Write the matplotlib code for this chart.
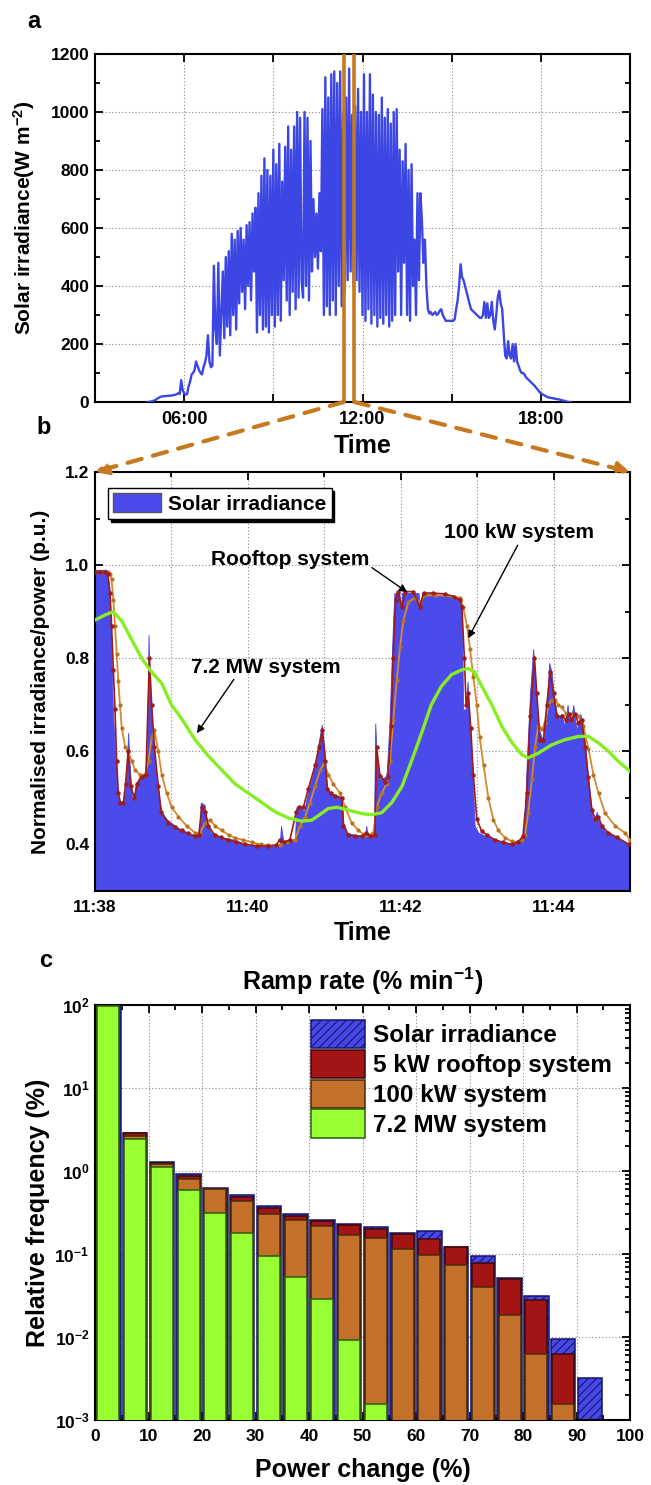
import numpy as np
import matplotlib
matplotlib.use('Agg')
import matplotlib.pyplot as plt
from matplotlib.patches import ConnectionPatch, Patch
from matplotlib.ticker import MultipleLocator, LogLocator, NullFormatter, FixedLocator

plt.rcParams['font.family'] = ['Liberation Sans', 'DejaVu Sans']
plt.rcParams['font.weight'] = 'bold'
plt.rcParams['axes.labelweight'] = 'bold'
plt.rcParams['axes.titleweight'] = 'bold'
plt.rcParams['mathtext.fontset'] = 'custom'
plt.rcParams['mathtext.rm'] = 'Liberation Sans:bold'
plt.rcParams['mathtext.bf'] = 'Liberation Sans:bold'
plt.rcParams['mathtext.it'] = 'Liberation Sans:bold'
plt.rcParams['mathtext.default'] = 'regular'
plt.rcParams['hatch.linewidth'] = 0.8

# ---------------- Panel a: daily irradiance (W m-2), 3-min samples 04:45 .. 19:00
day_start_min = 285
day_step_min = 3
irr_day_0445 = [0, 0, 1, 2, 4]
irr_day_05 = [5, 8, 12, 15, 18, 19, 20, 20, 21, 21, 22, 22, 23, 24, 25, 27, 30, 28, 75, 40]
irr_day_06 = [30, 25, 28, 55, 70, 95, 100, 110, 140, 125, 110, 100, 95, 120, 135, 160, 230, 140, 120, 125]
irr_day_07 = [470, 250, 200, 480, 160, 300, 450, 220, 500, 260, 520, 230, 580, 300, 560, 250, 590, 340, 600, 380]
irr_day_08 = [560, 320, 610, 400, 620, 350, 650, 450, 670, 240, 720, 300, 780, 250, 840, 260, 800, 240, 780, 300]
irr_day_09 = [870, 260, 820, 300, 890, 280, 760, 420, 880, 350, 950, 300, 870, 380, 950, 320, 1000, 360, 980, 420]
irr_day_10 = [360, 1000, 400, 980, 350, 900, 450, 700, 500, 650, 460, 720, 520, 1010, 300, 1120, 330, 1050, 300, 1130]
irr_day_11 = [350, 1140, 300, 1100, 400, 1140, 330, 1000, 380, 1050, 420, 1150, 450, 990, 400, 1020, 420, 1080, 380, 1000]
irr_day_12 = [300, 1130, 280, 1000, 320, 1130, 270, 1060, 300, 1000, 260, 990, 290, 1050, 270, 980, 300, 1010, 260, 960]
irr_day_13 = [280, 1000, 300, 1010, 450, 870, 300, 830, 480, 890, 300, 800, 280, 820, 400, 560, 300, 720, 420, 720]
irr_day_14 = [620, 480, 560, 400, 320, 305, 310, 300, 305, 310, 300, 305, 315, 320, 300, 290, 280, 280, 280, 280]
irr_day_15 = [280, 280, 285, 320, 350, 400, 475, 430, 420, 400, 380, 360, 340, 320, 315, 310, 305, 300, 295, 290]
irr_day_16 = [290, 300, 345, 290, 340, 290, 300, 345, 280, 250, 300, 360, 383, 340, 320, 240, 160, 150, 210, 160]
irr_day_17 = [150, 200, 140, 200, 140, 125, 110, 100, 100, 95, 85, 80, 75, 70, 65, 60, 55, 48, 42, 35]
irr_day_18 = [30, 27, 24, 21, 18, 16, 15, 14, 13, 12, 11, 10, 9, 8, 6, 5, 4, 2, 1, 0]
irr_day_19 = [0]
zoom_window_h = [11.37, 11.73]

# ---------------- Panel b: 11:38 - 11:45 (seconds after 11:38)
irr_t = [0, 9, 11, 12, 13, 14, 16, 18, 19, 22, 24, 26, 27, 29, 30, 32, 35, 39, 41, 42, 43, 45, 47, 49,
         52, 56, 60, 68, 78, 82, 83, 86, 88, 91, 100, 110, 118, 131, 140, 145, 146, 148, 155, 157, 158,
         162, 164, 167, 171, 173, 176, 178, 179, 180, 182, 185, 193, 194, 195, 198, 208, 212, 213, 214,
         219, 220, 221, 223, 228, 229, 231, 232, 234, 235, 239, 240, 241, 254, 255, 257, 270, 285, 288,
         289, 291, 292.5, 294, 296, 298, 301, 314, 327, 335, 337, 339, 341.5, 344, 345, 348, 352, 354.5,
         356.5, 358.5, 360.5, 363.5, 366, 368.5, 371, 373, 375.5, 378, 381, 383.5, 386, 388.5, 391, 394,
         396, 400, 408, 420]
irr_v = [0.99, 0.99, 0.96, 0.90, 0.80, 0.69, 0.58, 0.50, 0.49, 0.49, 0.52, 0.64, 0.58, 0.50, 0.49, 0.53,
         0.545, 0.55, 0.60, 0.85, 0.75, 0.65, 0.58, 0.52, 0.47, 0.455, 0.446, 0.43, 0.418, 0.418, 0.49,
         0.485, 0.45, 0.425, 0.415, 0.41, 0.40, 0.396, 0.396, 0.398, 0.44, 0.405, 0.41, 0.41, 0.48, 0.48,
         0.47, 0.51, 0.55, 0.58, 0.625, 0.657, 0.63, 0.61, 0.52, 0.51, 0.50, 0.49, 0.446, 0.425, 0.418,
         0.415, 0.44, 0.415, 0.425, 0.66, 0.60, 0.54, 0.545, 0.555, 0.65, 0.725, 0.88, 0.94, 0.94, 0.90,
         0.94, 0.94, 0.91, 0.94, 0.935, 0.93, 0.91, 0.69, 0.69, 0.75, 0.67, 0.58, 0.44, 0.425, 0.41, 0.40,
         0.41, 0.44, 0.58, 0.725, 0.82, 0.78, 0.65, 0.62, 0.69, 0.79, 0.77, 0.71, 0.67, 0.68, 0.655, 0.70,
         0.655, 0.70, 0.645, 0.68, 0.655, 0.58, 0.51, 0.45, 0.47, 0.446, 0.43, 0.418, 0.40]

roof_t = [0, 4, 8, 10, 11.8, 13, 14.4, 15.7, 17, 18.3, 20, 22.3, 24, 26, 28, 31, 33, 36.6, 40, 42.7, 44.5,
          46.6, 49.7, 52, 57.6, 63, 68, 73, 78.5, 81.5, 83.8, 86.4, 89, 94, 99, 104.7, 111, 118, 127, 136,
          142, 145, 148, 153, 158, 160, 163.6, 167.5, 172.8, 176, 178.5, 180.6, 182.5, 185, 188.5, 193.7,
          195, 199, 204, 209.4, 213, 216, 219.8, 221, 223.8, 228, 230, 232.4, 234, 236, 238, 240.8, 243.4,
          250, 255, 258, 265, 275, 282, 286.6, 288, 290, 291.3, 293, 295, 297, 299.7, 303.6, 308, 314, 320,
          327, 332, 336, 339, 341.6, 345, 346.8, 349.4, 352, 354.7, 357.3, 360, 362.5, 366.4, 369.6, 372,
          374, 377, 379.5, 382, 384.7, 387, 390, 392.6, 395, 398, 403, 410, 419]
roof_v = [0.985, 0.985, 0.985, 0.98, 0.94, 0.87, 0.775, 0.69, 0.58, 0.51, 0.49, 0.49, 0.53, 0.60, 0.525,
          0.50, 0.53, 0.545, 0.55, 0.80, 0.70, 0.61, 0.525, 0.47, 0.446, 0.437, 0.43, 0.424, 0.418, 0.42,
          0.48, 0.47, 0.44, 0.42, 0.415, 0.41, 0.405, 0.40, 0.397, 0.396, 0.398, 0.41, 0.405, 0.41, 0.47,
          0.48, 0.48, 0.52, 0.57, 0.61, 0.645, 0.58, 0.52, 0.51, 0.505, 0.50, 0.44, 0.42, 0.418, 0.418,
          0.425, 0.418, 0.42, 0.61, 0.546, 0.535, 0.545, 0.655, 0.80, 0.925, 0.943, 0.91, 0.943, 0.943,
          0.91, 0.94, 0.94, 0.938, 0.932, 0.925, 0.91, 0.80, 0.70, 0.725, 0.65, 0.55, 0.455, 0.428, 0.42,
          0.41, 0.405, 0.40, 0.405, 0.418, 0.51, 0.675, 0.80, 0.725, 0.625, 0.625, 0.70, 0.77, 0.725,
          0.675, 0.675, 0.668, 0.68, 0.668, 0.68, 0.66, 0.668, 0.61, 0.545, 0.475, 0.455, 0.46, 0.44,
          0.425, 0.415, 0.40]

kw100_t = [0, 5, 10, 11.8, 13, 14.4, 15.7, 17, 18.3, 19.6, 21, 23.6, 26, 28.8, 31.4, 35.3, 39.3, 42, 44.5,
           46.6, 49.7, 52.4, 56.3, 60.2, 65.4, 72, 78.5, 82.5, 86.4, 90.3, 94.2, 99.5, 105, 110, 116, 123,
           130, 136, 145, 150.5, 157, 161, 165, 168.8, 172.8, 176.7, 180, 183.2, 187, 192.4, 196.3, 201.6,
           206.8, 212, 214.6, 218.5, 221, 225, 229, 231.6, 234.2, 236.9, 239.5, 242, 246, 251, 255, 259,
           267, 275, 281, 286.6, 289, 292, 294.4, 297, 299.7, 302, 305, 308.8, 312.8, 316.7, 322, 327, 331,
           335, 337.6, 340, 343, 345.5, 348, 350.7, 353.3, 356, 358.5, 361, 363.8, 366.4, 370, 374, 379.5,
           383.4, 387.4, 391.3, 395.3, 400.5, 408.3, 416, 420]
kw100_v = [0.985, 0.985, 0.985, 0.98, 0.97, 0.925, 0.87, 0.81, 0.75, 0.70, 0.65, 0.61, 0.60, 0.58, 0.56,
           0.55, 0.55, 0.58, 0.63, 0.645, 0.60, 0.55, 0.51, 0.48, 0.46, 0.44, 0.425, 0.425, 0.446, 0.453,
           0.44, 0.43, 0.42, 0.414, 0.41, 0.405, 0.40, 0.398, 0.398, 0.405, 0.41, 0.44, 0.46, 0.49, 0.525,
           0.56, 0.575, 0.55, 0.53, 0.51, 0.48, 0.446, 0.43, 0.42, 0.42, 0.425, 0.48, 0.51, 0.53, 0.58,
           0.668, 0.753, 0.825, 0.88, 0.92, 0.93, 0.92, 0.935, 0.935, 0.935, 0.932, 0.93, 0.91, 0.87, 0.82,
           0.76, 0.70, 0.63, 0.57, 0.50, 0.453, 0.43, 0.414, 0.407, 0.405, 0.41, 0.42, 0.467, 0.54, 0.61,
           0.655, 0.648, 0.66, 0.70, 0.71, 0.71, 0.70, 0.695, 0.68, 0.68, 0.675, 0.655, 0.605, 0.55, 0.51,
           0.467, 0.44, 0.425, 0.41]

mw_t = [0, 8, 14.4, 21, 28.8, 36.6, 44.5, 52.4, 60, 68, 78.5, 89, 99.5, 110, 120.4, 131, 141.4, 151.8,
        162.3, 170, 177, 183, 190, 197, 204, 210, 217, 225, 233, 241, 248.6, 256.5, 264, 272, 280, 288,
        293, 298, 303.6, 311.5, 319.3, 327, 335, 340, 348, 358.5, 369, 379.5, 387.4, 395.3, 403, 411, 420]
mw_v = [0.882, 0.893, 0.90, 0.88, 0.84, 0.80, 0.77, 0.746, 0.70, 0.67, 0.625, 0.59, 0.56, 0.53, 0.51, 0.49,
        0.47, 0.457, 0.45, 0.452, 0.465, 0.477, 0.48, 0.475, 0.47, 0.466, 0.464, 0.468, 0.49, 0.525, 0.58,
        0.64, 0.70, 0.74, 0.765, 0.775, 0.778, 0.77, 0.74, 0.70, 0.654, 0.62, 0.593, 0.586, 0.596, 0.614,
        0.625, 0.632, 0.632, 0.618, 0.60, 0.578, 0.557]

tick_labels_b = ['11:38', '11:40', '11:42', '11:44']

# ---------------- Panel c: ramp-rate histogram (relative frequency, %)
bin_start = [0, 5, 10, 15, 20, 25, 30, 35, 40, 45, 50, 55, 60, 65, 70, 75, 80, 85, 90]
freq_solar = [95, 2.9, 1.27, 0.91, 0.63, 0.51, 0.38, 0.30, 0.26, 0.23, 0.21, 0.18, 0.19, 0.122, 0.094,
              0.051, 0.031, 0.0094, 0.0032]
freq_rooftop = [96, 2.85, 1.25, 0.88, 0.61, 0.49, 0.36, 0.29, 0.25, 0.225, 0.20, 0.175, 0.15, 0.12,
                0.078, 0.05, 0.028, 0.0062, 0]
freq_100kw = [97, 2.65, 1.22, 0.79, 0.60, 0.43, 0.30, 0.255, 0.22, 0.17, 0.158, 0.115, 0.097, 0.074,
              0.040, 0.0186, 0.0062, 0.00155, 0]
freq_72mw = [98, 2.4, 1.13, 0.59, 0.31, 0.177, 0.095, 0.053, 0.029, 0.0092, 0.00155, 0, 0, 0, 0, 0, 0, 0, 0]

# ---------------- colours
BLUE_LINE = '#3C46E2'
BLUE_FILL = '#4B4BEB'
ORANGE = '#C8781E'
ROOF_RED = '#9E1B1B'
KW_ORANGE = '#D68A2E'
GREEN = '#86EE22'
C_BLUE = '#4747E6'
C_RED = '#A31515'
C_BROWN = '#C2702A'
C_GREEN = '#99FF33'
GRIDC = '#8a8a8a'

W, H = 651, 1485
fig = plt.figure(figsize=(W / 100, H / 100), dpi=100)


def frac_rect(l, t, r, b):
    return [l / W, 1 - b / H, (r - l) / W, (b - t) / H]


def style(ax):
    ax.tick_params(which='both', direction='in', top=True, right=True, width=1.3,
                   labelsize=12.5, pad=4)
    ax.tick_params(axis='x', which='both', pad=6.5)
    ax.tick_params(which='major', length=6)
    ax.tick_params(which='minor', length=3.5)
    for s in ax.spines.values():
        s.set_linewidth(1.5)
    ax.set_axisbelow(True)


# ---------- a
axa = fig.add_axes(frac_rect(95, 54, 630, 402))
irr_day = (irr_day_0445 + irr_day_05 + irr_day_06 + irr_day_07 + irr_day_08 + irr_day_09 + irr_day_10
           + irr_day_11 + irr_day_12 + irr_day_13 + irr_day_14 + irr_day_15 + irr_day_16 + irr_day_17
           + irr_day_18 + irr_day_19)
t_day_h = (day_start_min + day_step_min * np.arange(len(irr_day))) / 60.0
axa.plot(t_day_h, irr_day, color=BLUE_LINE, lw=1.7, zorder=3)
for xv in zoom_window_h:
    axa.axvline(xv, color=ORANGE, lw=2.6, zorder=4)
axa.set_xlim(3, 21)
axa.set_ylim(0, 1200)
style(axa)
axa.xaxis.set_major_locator(FixedLocator([6, 9, 12, 15, 18]))
axa.set_xticklabels(['06:00', '', '12:00', '', '18:00'], fontsize=13)
axa.yaxis.set_major_locator(MultipleLocator(200))
axa.yaxis.set_minor_locator(MultipleLocator(100))
axa.grid(True, which='major', linestyle=(0, (1, 2)), color=GRIDC, lw=0.8)
axa.set_xlabel('Time', fontsize=18, labelpad=4)
axa.set_ylabel('Solar irradiance(W m$^{-2}$)', fontsize=15)
axa.yaxis.set_label_coords(-0.108, 0.53)

# ---------- b
axb = fig.add_axes(frac_rect(95, 472, 630, 891))
axb.fill_between(irr_t, irr_v, 0.3, color=BLUE_FILL, lw=0.6, edgecolor=BLUE_FILL, zorder=2,
                 label='Solar irradiance')
axb.plot(kw100_t, kw100_v, color=KW_ORANGE, lw=1.3, marker='o', ms=2.0, mfc='#B8741F', mec='#B8741F',
         zorder=4)
axb.plot(roof_t, roof_v, color=ROOF_RED, lw=1.2, marker='o', ms=2.2, mfc=ROOF_RED, mec=ROOF_RED, zorder=5)
axb.plot(mw_t, mw_v, color=GREEN, lw=2.4, zorder=6)
axb.set_xlim(0, 420)
axb.set_ylim(0.3, 1.2)
style(axb)
axb.xaxis.set_major_locator(FixedLocator([0, 120, 240, 360]))
axb.xaxis.set_minor_locator(FixedLocator([60, 180, 300]))
axb.set_xticklabels(tick_labels_b)
axb.yaxis.set_major_locator(MultipleLocator(0.2))
axb.yaxis.set_minor_locator(MultipleLocator(0.1))
axb.yaxis.set_major_formatter(matplotlib.ticker.FormatStrFormatter('%.1f'))
axb.grid(True, which='major', linestyle=(0, (1, 2)), color=GRIDC, lw=0.8)
axb.grid(True, which='minor', axis='x', linestyle=(0, (1, 2)), color=GRIDC, lw=0.8)
axb.set_xlabel('Time', fontsize=18, labelpad=4)
axb.set_ylabel('Normalised irradiance/power (p.u.)', fontsize=15)
axb.yaxis.set_label_coords(-0.084, 0.5)
leg_b = axb.legend(handles=[Patch(facecolor=BLUE_FILL, edgecolor='#555555', lw=1.0, label='Solar irradiance')],
                   loc='upper left', bbox_to_anchor=(0.024, 0.962), fontsize=15, frameon=True,
                   fancybox=False, edgecolor='black', framealpha=1, borderpad=0.25, handlelength=2.3,
                   handleheight=1.0, handletextpad=0.35, borderaxespad=0,
                   shadow={'color': 'black', 'alpha': 1.0})
leg_b.get_frame().set_linewidth(1.0)
leg_b.set_zorder(10)

arrow_kw = dict(arrowstyle='-|>', color='black', lw=1.0, mutation_scale=11, shrinkA=0, shrinkB=0)
axb.annotate('100 kW system', xy=(293, 0.843), xytext=(333, 1.069), fontsize=15, ha='center',
             va='center', arrowprops=dict(relpos=(0.5, 0.0), **arrow_kw), zorder=9)
axb.annotate('Rooftop system', xy=(245, 0.942), xytext=(153, 1.011), fontsize=15, ha='center',
             va='center', arrowprops=dict(relpos=(1.0, 0.2), **arrow_kw), zorder=9)
axb.annotate('7.2 MW system', xy=(80, 0.639), xytext=(134, 0.781), fontsize=15, ha='center',
             va='center', arrowprops=dict(relpos=(0.3, 0.0), **arrow_kw), zorder=9)

# zoom connectors a -> b
for xa, xb in [(zoom_window_h[0], 0.0), (zoom_window_h[1], 1.0)]:
    con = ConnectionPatch(xyA=(xa, 0), coordsA=axa.transData, xyB=(xb, 1.0), coordsB=axb.transAxes,
                          arrowstyle='-|>', linestyle=(0, (3.5, 2.8)), lw=3.0, color=ORANGE,
                          mutation_scale=18, shrinkA=0, shrinkB=0, zorder=20)
    con.set_clip_on(False)
    fig.add_artist(con)

# ---------- c
axc = fig.add_axes(frac_rect(95, 1005, 630, 1420))
bs = np.array(bin_start, dtype=float)


def draw_bars(vals, off, width, fc, ec, hatch=None, label=None, z=2):
    v = np.array(vals, dtype=float)
    m = v > 0
    axc.bar(bs[m] + off, v[m], width=width, bottom=1e-5, align='edge', facecolor=fc, edgecolor=ec,
            lw=1.1, hatch=hatch, zorder=z, label=label)


draw_bars(freq_solar, 0.2, 4.6, C_BLUE, '#15156e', hatch='////', label='Solar irradiance', z=2)
draw_bars(freq_rooftop, 0.45, 4.1, C_RED, '#3a0a0a', label='5 kW rooftop system', z=3)
draw_bars(freq_100kw, 0.45, 4.1, C_BROWN, '#4a2a0a', label='100 kW system', z=4)
draw_bars(freq_72mw, 0.45, 4.1, C_GREEN, '#2c5a10', label='7.2 MW system', z=5)
axc.set_yscale('log')
axc.set_xlim(0, 100)
axc.set_ylim(1e-3, 1e2)
style(axc)
axc.xaxis.set_major_locator(MultipleLocator(10))
axc.xaxis.set_minor_locator(MultipleLocator(5))
axc.yaxis.set_major_locator(LogLocator(base=10, numticks=10))
axc.yaxis.set_minor_locator(LogLocator(base=10, subs=np.arange(2, 10), numticks=20))
axc.yaxis.set_minor_formatter(NullFormatter())
axc.grid(True, which='major', linestyle=(0, (1, 2)), color=GRIDC, lw=0.8)
axc.set_xlabel('Power change (%)', fontsize=18, labelpad=10)
axc.set_ylabel('Relative frequency (%)', fontsize=18)
axc.yaxis.set_label_coords(-0.084, 0.5)
axc.set_title('Ramp rate (% min$^{-1}$)', fontsize=18, pad=11)
axc.legend(loc='upper left', bbox_to_anchor=(0.404, 0.964), fontsize=17.5, frameon=False,
           handlelength=2.2, handleheight=1.42, labelspacing=0.06, handletextpad=0.35, borderaxespad=0,
           borderpad=0)

# panel letters
fig.text(34 / W, 1 - 22 / H, 'a', fontsize=17, ha='center', va='center')
fig.text(44 / W, 1 - 428 / H, 'b', fontsize=17, ha='center', va='center')
fig.text(46 / W, 1 - 960 / H, 'c', fontsize=17, ha='center', va='center')

fig.savefig('out.png', dpi=100)
